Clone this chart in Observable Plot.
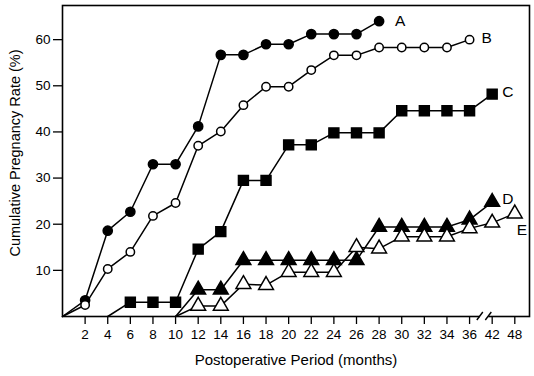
<!DOCTYPE html>
<html>
<head>
<meta charset="utf-8">
<script src="https://cdn.jsdelivr.net/npm/d3@7"></script>
<script src="https://cdn.jsdelivr.net/npm/@observablehq/plot@0.6"></script>
<style>
  html, body { margin: 0; padding: 0; background: #fff; }
  #chart svg { display: block; }
</style>
</head>
<body>
<div id="chart"></div>
<script>
// ---- data ----
const months = [2, 4, 6, 8, 10, 12, 14, 16, 18, 20, 22, 24, 26, 28, 30, 32, 34, 36, 42, 48];
const tickLabels = ["2","4","6","8","10","12","14","16","18","20","22","24","26","28","30","32","34","36","42","48"];
const yTicks = [10, 20, 30, 40, 50, 60];
const seriesNames = ["A", "B", "C", "D", "E"];
const startMonths = [0, 0, 4, 10, 10];
const seriesA = [3.5, 18.6, 22.7, 33, 33, 41.2, 56.7, 56.7, 59, 59, 61.2, 61.2, 61.2, 64, null, null, null, null, null, null];
const seriesB = [2.5, 10.3, 14, 21.8, 24.6, 37, 40.1, 45.8, 49.8, 49.8, 53.4, 56.6, 56.6, 58.3, 58.3, 58.3, 58.3, 60, null, null];
const seriesC = [null, null, 3.1, 3.1, 3.1, 14.6, 18.4, 29.5, 29.5, 37.2, 37.2, 39.8, 39.8, 39.8, 44.6, 44.6, 44.6, 44.6, 48.2, null];
const seriesD = [null, null, null, null, null, 5.8, 5.8, 12.2, 12.2, 12.2, 12.2, 12.2, 12.2, 19.4, 19.4, 19.4, 19.4, 21, 24.8, null];
const seriesE = [null, null, null, null, null, 2.3, 2.3, 7, 6.8, 9.6, 9.6, 9.6, 15, 14.7, 17.3, 17.3, 17.3, 19.1, 20.3, 22.3];
const xAxisTitle = "Postoperative Period (months)";
const yAxisTitle = "Cumulative Pregnancy Rate (%)";

// ---- layout / style ----
const font = "'Liberation Sans', Arial, Helvetica, sans-serif";
const allSeries = [seriesA, seriesB, seriesC, seriesD, seriesE];
const iBreak = months.indexOf(36);
const xPos = (m) => m <= 36 ? m : 36 + 2 * (months.indexOf(m) - iBreak);
const tickPositions = months.map(xPos);
const breakFrom = 36.95, breakTo = 37.7; // in axis position units

const lineRows = [];
const dotRows = [];
seriesNames.forEach((name, s) => {
  lineRows.push({name, x: xPos(startMonths[s]), y: 0});
  allSeries[s].forEach((v, i) => {
    if (v == null) return;
    const r = {name, x: xPos(months[i]), y: v};
    lineRows.push(r);
    dotRows.push(r);
  });
});
const lastRows = seriesNames.map(name => {
  const rows = dotRows.filter(d => d.name === name);
  return rows[rows.length - 1];
});
const labelDx = {A: 16, B: 12, C: 10, D: 10, E: 2};
const labelDy = {A: 0, B: -2, C: -2, D: -3, E: 16};

const sym = {A: "circle", B: "circle", C: "square", D: "triangle", E: "triangle"};
const fills = {A: "black", B: "white", C: "black", D: "black", E: "white"};
const radius = {A: 4.6, B: 4.2, C: 5.6, D: 5.5, E: 5.5};

// break marker drawn with the library's scales
function axisBreak(index, scales, values, dimensions) {
  const g = d3.create("svg:g");
  const y0 = dimensions.height - dimensions.marginBottom;
  const xa = scales.x(breakFrom), xb = scales.x(breakTo);
  g.append("rect").attr("x", xa).attr("y", y0 - 3).attr("width", xb - xa).attr("height", 6).attr("fill", "white");
  for (const xx of [xa, xb]) {
    g.append("line").attr("x1", xx - 3).attr("y1", y0 + 4).attr("x2", xx + 3).attr("y2", y0 - 4)
      .attr("stroke", "black").attr("stroke-width", 1.4);
  }
  return g.node();
}

const chart = Plot.plot({
  width: 534,
  height: 376,
  marginLeft: 62,
  marginRight: 5,
  marginTop: 5,
  marginBottom: 60,
  style: {fontFamily: font, fontSize: "13.5px", color: "black", background: "white"},
  x: {domain: [0, 41.3]},
  y: {domain: [0, 67.4]},
  marks: [
    Plot.frame({stroke: "black", strokeWidth: 1.6}),
    Plot.axisX({ticks: tickPositions, tickFormat: (d) => tickLabels[tickPositions.indexOf(d)], tickSize: 8, tickPadding: 5, strokeWidth: 1.3, label: null, fontSize: 13.5}),
    Plot.axisY({ticks: yTicks, tickSize: 9, tickPadding: 3, strokeWidth: 1.3, label: null, fontSize: 13.5}),
    axisBreak,
    Plot.line(lineRows, {x: "x", y: "y", z: "name", stroke: "black", strokeWidth: 1.5}),
    ...seriesNames.map(n => Plot.dot(dotRows.filter(d => d.name === n), {
      x: "x", y: "y", symbol: () => sym[n], r: radius[n], fill: fills[n], stroke: "black", strokeWidth: 1.5
    })),
    ...seriesNames.map((n, i) => Plot.text([lastRows[i]], {
      x: "x", y: "y", text: "name", textAnchor: "start", dx: labelDx[n], dy: labelDy[n], fontSize: 15.5, fill: "black"
    })),
    Plot.text([xAxisTitle], {frameAnchor: "bottom", dy: 48, fontSize: 15, fill: "black"}),
    Plot.text([yAxisTitle], {frameAnchor: "left", textAnchor: "middle", dx: -47, dy: -8, rotate: -90, fontSize: 14.5, fill: "black"})
  ]
});
document.getElementById("chart").appendChild(chart);
</script>
</body>
</html>
